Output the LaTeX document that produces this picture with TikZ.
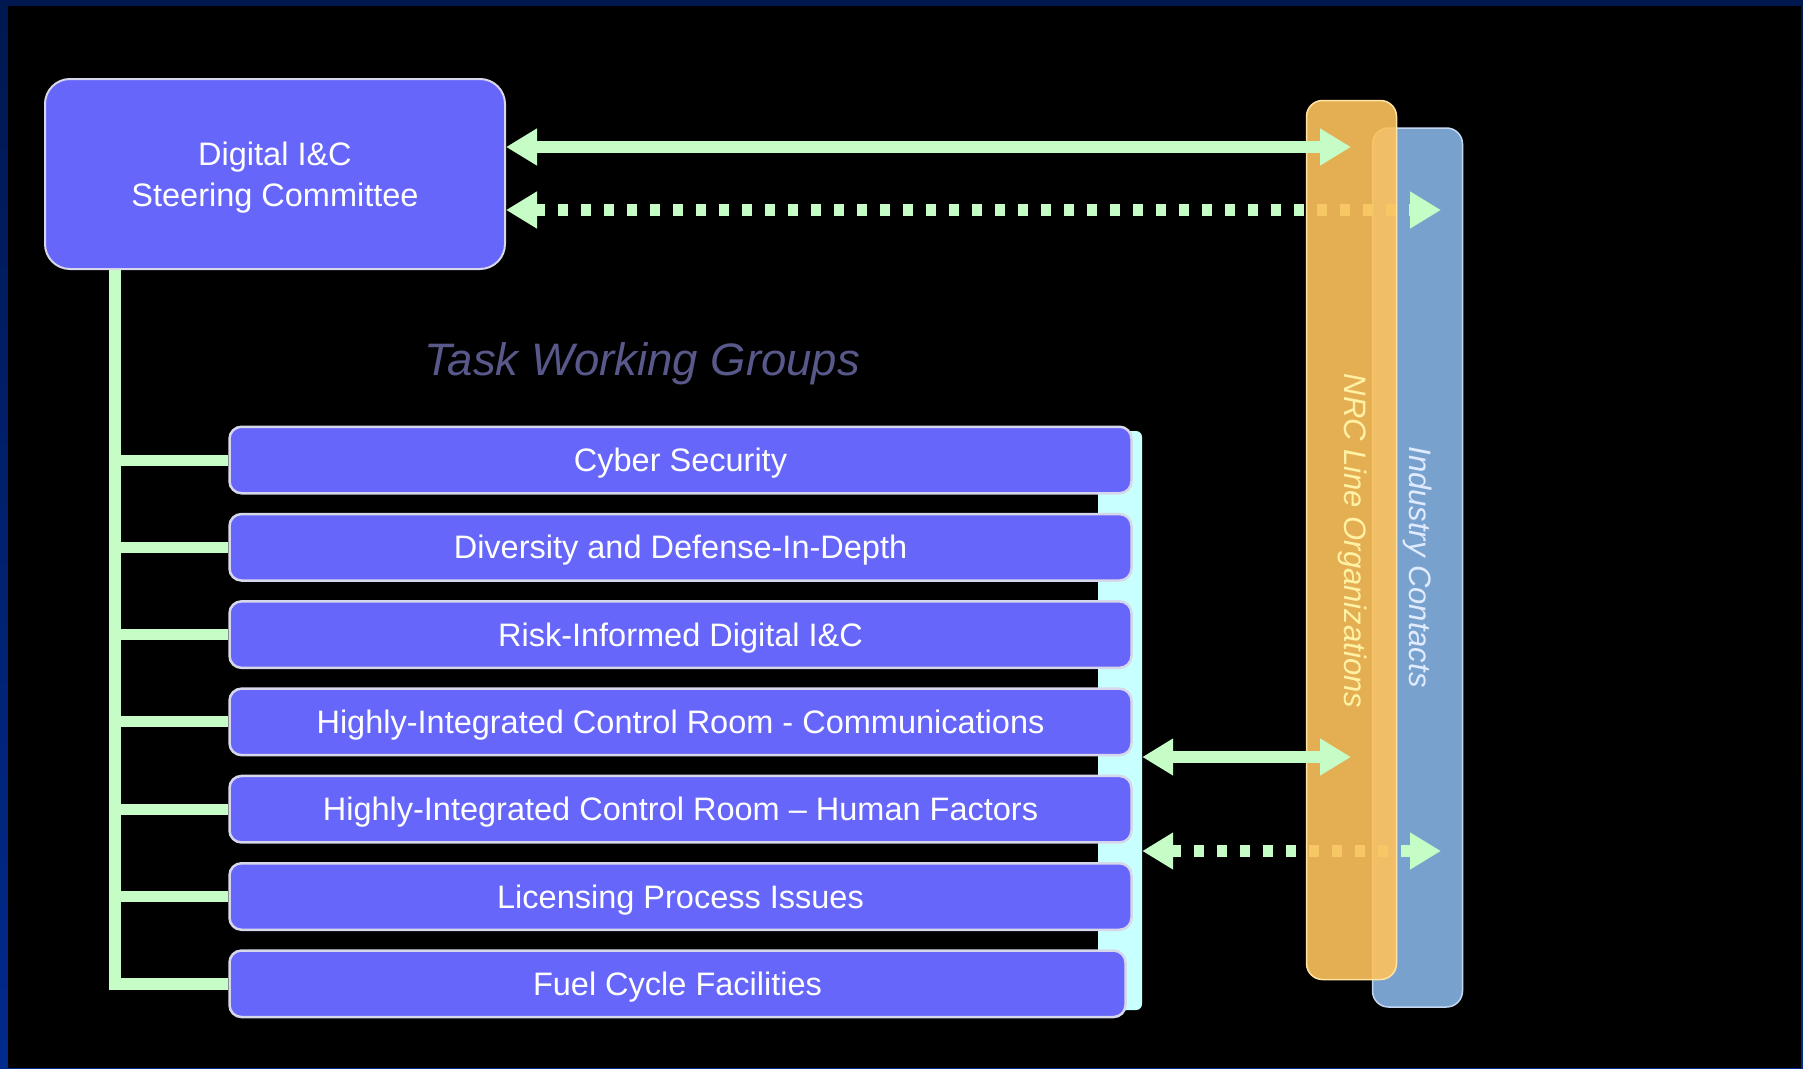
\documentclass[tikz,border=0pt]{standalone}
\usepackage{fontspec}
\setmainfont{Liberation Sans}
\usetikzlibrary{arrows.meta, positioning}

\definecolor{framenavy}{RGB}{0,24,80}
\definecolor{frameblue}{RGB}{0,42,140}
\definecolor{boxviolet}{RGB}{102,102,250}
\definecolor{boxedge}{RGB}{215,215,235}
\definecolor{linkgreen}{RGB}{198,252,198}
\definecolor{stackcyan}{RGB}{200,255,255}
\definecolor{nrcorange}{RGB}{253,194,91}
\definecolor{nrcedge}{RGB}{255,228,165}
\definecolor{indblue}{RGB}{120,162,205}
\definecolor{indedge}{RGB}{195,215,240}
\definecolor{titlegrey}{RGB}{88,88,138}
\definecolor{nrctext}{RGB}{255,242,165}
\definecolor{indtext}{RGB}{225,235,255}

\begin{document}
\begin{tikzpicture}[
    x=1pt, y=-1pt,
    node distance=18.3pt,
    >={Triangle[length=31pt, width=35pt]},
    committee/.style={rectangle, draw=boxedge, fill=boxviolet, line width=2pt, rounded corners=25pt, minimum width=460pt, minimum height=190pt, align=center, text=white, font=\fontsize{32.5}{41}\selectfont},
    group/.style={rectangle, draw=boxedge, fill=boxviolet, line width=2.5pt, rounded corners=12pt, minimum width=902pt, minimum height=66.5pt, text height=23.3pt, text depth=0pt, text=white, font=\fontsize{32.5}{39}\selectfont},
    bar/.style={rectangle, line width=1.5pt, rounded corners=16pt, minimum width=90pt, minimum height=879pt},
    barlabel/.style={rotate=-90, font=\itshape\fontsize{31}{37}\selectfont},
    bus/.style={draw=linkgreen, line width=12pt},
    link/.style={draw=linkgreen, line width=12pt, <->},
    dotlink/.style={link, dash pattern=on 10pt off 13pt}
]

% Backdrop
\shade[top color=framenavy, bottom color=frameblue] (0,0) rectangle (1803,1068);
\fill[black] (8,6) rectangle (1801,1068);
\useasboundingbox (0,0) rectangle (1803,1068);

% Steering committee
\node[committee] (steering) at (275,174) {\rule{0pt}{30pt}Digital I\&C\\Steering Committee};

% Panel behind the groups
\node[rectangle, fill=stackcyan, rounded corners=6pt, minimum width=44pt, minimum height=579pt] (stack) at (1120,720.5) {};

% Working groups
\node[group] (cyber) at (680.5,460) {Cyber Security};
\node[group, below=of cyber] (diversity) {Diversity and Defense-In-Depth};
\node[group, below=of diversity] (risk) {Risk-Informed Digital I\&C};
\node[group, below=of risk] (hicrcomm) {Highly-Integrated Control Room - Communications};
\node[group, below=of hicrcomm] (hicrhf) {Highly-Integrated Control Room – Human Factors};
\node[group, below=of hicrhf] (licensing) {Licensing Process Issues};
\node[group, below=of licensing, xshift=-3pt, minimum width=896pt] (fuel) {Fuel Cycle Facilities};

\node[text=titlegrey, font=\itshape\fontsize{45.5}{54}\selectfont] (twg) at (642,364) {Task Working Groups};

% Bus
\coordinate (bus) at ([xshift=71pt]steering.south west);
\draw[bus] (bus) |- (fuel.west);
\draw[bus, line width=11pt] (bus |- cyber.west) -- (cyber.west);
\draw[bus, line width=11pt] (bus |- diversity.west) -- (diversity.west);
\draw[bus, line width=11pt] (bus |- risk.west) -- (risk.west);
\draw[bus, line width=11pt] (bus |- hicrcomm.west) -- (hicrcomm.west);
\draw[bus, line width=11pt] (bus |- hicrhf.west) -- (hicrhf.west);
\draw[bus, line width=11pt] (bus |- licensing.west) -- (licensing.west);

% Industry contacts
\node[bar, draw=indedge, fill=indblue] (industry) at (1417.5,567.5) {};
\coordinate (indtip1) at (1441,210);
\coordinate (indtip2) at (1441,851);
\draw[dotlink] (indtip1 -| steering.east) -- (indtip1);
\draw[dotlink] (indtip2 -| stack.east) -- (indtip2);

% NRC line organizations
\node[bar, draw=nrcedge, fill=nrcorange, fill opacity=0.9] (nrc) at (1351.5,540) {};
\coordinate (nrctip1) at (1351,147);
\coordinate (nrctip2) at (1351,757);
\draw[link] (nrctip1 -| steering.east) -- (nrctip1);
\draw[link] (nrctip2 -| stack.east) -- (nrctip2);

\node[barlabel, text=nrctext] (nrclabel) at (1352,541) {NRC Line Organizations};
\node[barlabel, text=indtext] (indlabel) at (1417,567) {Industry Contacts};

\end{tikzpicture}
\end{document}
